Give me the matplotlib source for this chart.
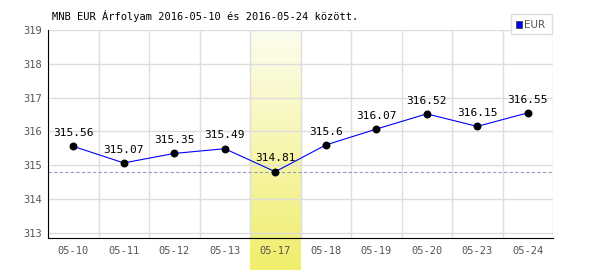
import numpy as np
import matplotlib.pyplot as plt
from matplotlib.patches import Rectangle

dates = ["05-10", "05-11", "05-12", "05-13", "05-17",
         "05-18", "05-19", "05-20", "05-23", "05-24"]
rates = [315.56, 315.07, 315.35, 315.49, 314.81,
         315.6, 316.07, 316.52, 316.15, 316.55]
highlight = "05-17"
title = "MNB EUR Árfolyam 2016-05-10 és 2016-05-24 között."

plt.rcParams['font.family'] = 'DejaVu Sans Mono'

fig = plt.figure(figsize=(6, 2.7), dpi=100)
ax = fig.add_axes([48 / 600, 32 / 270, 505 / 600, 208 / 270])

x = np.arange(len(dates))
ymin, ymax = 312.85, 319.0
ax.set_xlim(-0.5, len(dates) - 0.5)
ax.set_ylim(ymin, ymax)

# yellow gradient behind the highlighted day, running past the axis bottom
hi = dates.index(highlight)
grad = np.linspace(0, 1, 256).reshape(-1, 1)
from matplotlib.colors import LinearSegmentedColormap
cmap = LinearSegmentedColormap.from_list("yel", ["#fdfdf0", "#f0ee6a"])
ext_bottom = ymin - (32 / 208) * (ymax - ymin)
im = ax.imshow(grad, cmap=cmap, aspect="auto", origin="upper",
               extent=[hi - 0.5, hi + 0.5, ext_bottom, ymax],
               zorder=0, clip_on=False)

ax.set_xticks(np.arange(len(dates) + 1) - 0.5, minor=False)
ax.set_xticklabels([])
ax.set_xticks(x, minor=True)
ax.set_xticklabels(dates, minor=True)
ax.set_yticks(np.arange(313, 320))
ax.grid(True, which="major", color="#dddddd", linewidth=1)
ax.set_axisbelow(True)
ax.tick_params(which="both", length=0, labelsize=7.5, colors="#555555")
ax.tick_params(axis="x", which="minor", pad=6)
ax.tick_params(axis="y", pad=4)

for s in ["top", "right"]:
    ax.spines[s].set_visible(False)
ax.spines["left"].set_color("black")
ax.spines["bottom"].set_color("black")

ax.axhline(min(rates), color="#9999bb", linestyle=(0, (3, 2)), linewidth=0.8, zorder=1)

ax.plot(x, rates, color="blue", linewidth=0.8, zorder=3)
ax.scatter(x, rates, color="black", s=22, zorder=4)
for xi, v in zip(x, rates):
    ax.annotate(f"{v:g}", (xi, v), xytext=(0, 6), textcoords="offset points",
                ha="center", va="bottom", fontsize=8, color="black", zorder=5)

fig.text(52 / 600, 1 - 16 / 270, title, fontsize=7.5, color="black", va="center")

# legend box
fig.patches.append(Rectangle((511 / 600, 1 - 34 / 270), 41 / 600, 20 / 270,
                             transform=fig.transFigure, facecolor="white",
                             edgecolor="#dddddd", linewidth=1))
fig.patches.append(Rectangle((516 / 600, 1 - 27.5 / 270), 6 / 600, 6 / 270,
                             transform=fig.transFigure, facecolor="blue",
                             edgecolor="#333333", linewidth=0.5))
fig.text(524 / 600, 1 - 24.5 / 270, "EUR", fontsize=7.5, color="#555555",
         va="center", family="DejaVu Sans")

fig.savefig("out.png", dpi=100)
